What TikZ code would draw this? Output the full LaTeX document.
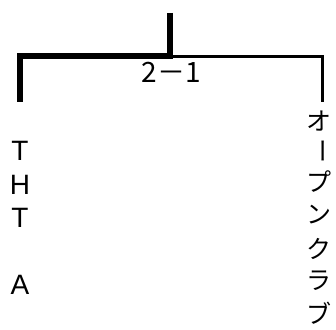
\documentclass[tikz,border=0pt]{standalone}
\usepackage{fontspec}
\setmainfont{Liberation Sans}
\newfontfamily\cjk{Noto Sans CJK JP}
\begin{document}
\begin{tikzpicture}[x=1pt,y=-1pt,
  lat/.style={font=\fontsize{28}{28}\selectfont, inner sep=0pt, anchor=center},
  jp/.style={font=\cjk\fontsize{25}{25}\selectfont, inner sep=0pt, anchor=center},
  boldline/.style={line width=6pt, line join=miter},
  thinline/.style={line width=3pt, line join=miter}]
\useasboundingbox (0,0) rectangle (336,329);
\coordinate (top) at (170,13);
\coordinate (hub) at (170,56);
\coordinate (lc) at (20,56);
\coordinate (rc) at (322,56);
\coordinate (lend) at (20,102);
\coordinate (rend) at (322,102);
\draw[thinline] (hub) -- (rc) -- (rend);
\draw[boldline] (top) -- (hub) -- (lc) -- (lend);
\node[font=\cjk\fontsize{28}{28}\selectfont, inner sep=0pt] (lbl) at (171,72) {2－1};
% left column
\node[lat] (a1) at (20,151) {T};
\node[lat] (a2) at (20,185) {H};
\node[lat] (a3) at (20,218) {T};
\node[lat] (a4) at (20,285) {A};
% right column
\node[jp] (b1) at (319,121) {オ};
\node[jp, rotate=-90] (b2) at (319,151) {ー};
\node[jp] (b3) at (319,182) {プ};
\node[jp] (b4) at (319,215) {ン};
\node[jp] (b5) at (319,249) {ク};
\node[jp] (b6) at (319,281) {ラ};
\node[jp] (b7) at (319,313) {ブ};
\end{tikzpicture}
\end{document}
